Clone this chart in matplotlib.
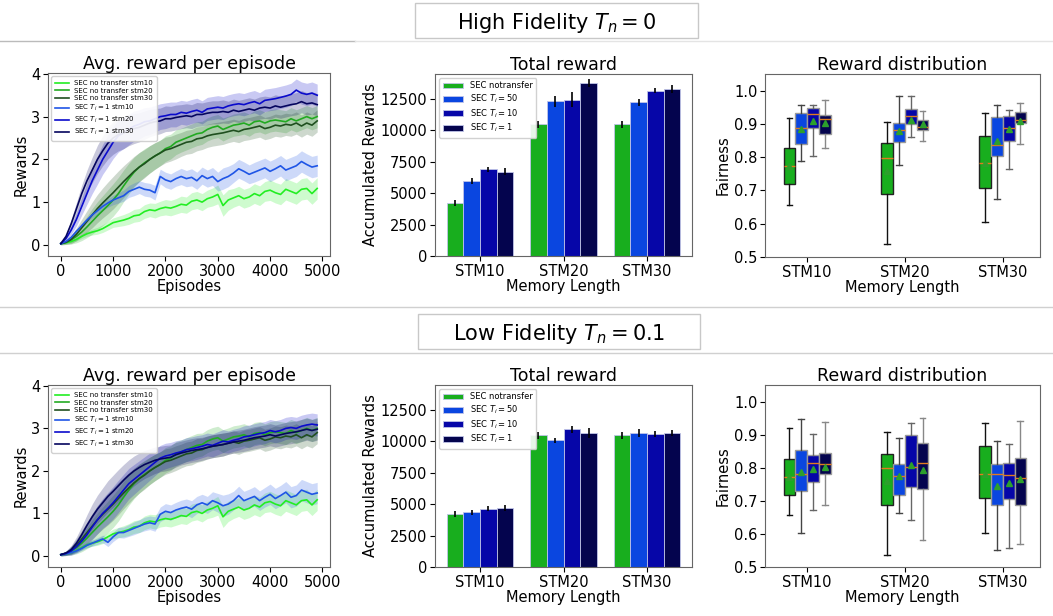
import numpy as np
import matplotlib
matplotlib.use("Agg")
import matplotlib.pyplot as plt
from matplotlib.lines import Line2D
from matplotlib.patches import Rectangle

plt.rcParams.update({
    "font.family": "DejaVu Sans",
    "axes.titlesize": 12.5,
    "axes.labelsize": 10.5,
    "xtick.labelsize": 10.5,
    "ytick.labelsize": 10.5,
    "axes.edgecolor": "#666666",
})

# ── Data: learning curves (episodes 0..4900, step 100) ─────────
EPISODES = np.arange(0, 5000, 100)

NT_STM10 = [0.03, 0.05, 0.08, 0.13, 0.2, 0.26, 0.3, 0.33, 0.38, 0.45,
            0.52, 0.55, 0.58, 0.62, 0.68, 0.7, 0.78, 0.82, 0.8, 0.85,
            0.88, 0.86, 0.9, 0.95, 0.93, 1.02, 1.05, 1.0, 1.08, 1.12,
            1.18, 0.92, 1.05, 1.1, 1.15, 1.08, 1.12, 1.2, 1.15, 1.25,
            1.28, 1.22, 1.18, 1.3, 1.25, 1.2, 1.3, 1.32, 1.2, 1.32]
NT_STM20 = [0.03, 0.06, 0.12, 0.2, 0.3, 0.42, 0.55, 0.68, 0.8, 0.92,
            1.05, 1.2, 1.38, 1.55, 1.7, 1.82, 1.92, 2.0, 2.08, 2.15,
            2.25, 2.3, 2.4, 2.45, 2.5, 2.55, 2.6, 2.62, 2.7, 2.75,
            2.78, 2.7, 2.75, 2.8, 2.82, 2.85, 2.8, 2.88, 2.9, 2.85,
            2.9, 2.92, 2.9, 2.88, 2.95, 2.9, 2.95, 3.0, 2.95, 3.0]
NT_STM30 = [0.03, 0.06, 0.13, 0.25, 0.4, 0.55, 0.7, 0.85, 0.98, 1.1,
            1.22, 1.35, 1.48, 1.6, 1.72, 1.82, 1.9, 2.0, 2.08, 2.15,
            2.22, 2.25, 2.3, 2.35, 2.4, 2.42, 2.48, 2.5, 2.55, 2.58,
            2.6, 2.62, 2.65, 2.68, 2.65, 2.7, 2.72, 2.75, 2.78, 2.72,
            2.75, 2.8, 2.78, 2.82, 2.8, 2.85, 2.78, 2.85, 2.8, 2.9]

HF_STM10 = [0.03, 0.08, 0.18, 0.32, 0.45, 0.58, 0.7, 0.8, 0.9, 0.98,
            1.05, 1.1, 1.15, 1.25, 1.3, 1.35, 1.3, 1.28, 1.22, 1.6,
            1.52, 1.48, 1.55, 1.6, 1.55, 1.58, 1.5, 1.62, 1.55, 1.6,
            1.48, 1.55, 1.6, 1.68, 1.78, 1.72, 1.65, 1.7, 1.75, 1.8,
            1.72, 1.78, 1.85, 1.75, 1.8, 1.85, 1.95, 1.88, 1.82, 1.85]
HF_STM20 = [0.03, 0.15, 0.35, 0.6, 0.9, 1.2, 1.5, 1.75, 2.0, 2.2,
            2.4, 2.55, 2.62, 2.7, 2.78, 2.82, 2.88, 2.9, 2.95, 3.0,
            3.02, 3.05, 3.05, 3.1, 3.08, 3.12, 3.15, 3.1, 3.18, 3.2,
            3.22, 3.2, 3.25, 3.28, 3.3, 3.28, 3.32, 3.35, 3.3, 3.38,
            3.4, 3.42, 3.45, 3.48, 3.52, 3.62, 3.55, 3.52, 3.55, 3.5]
HF_STM30 = [0.03, 0.2, 0.5, 0.85, 1.2, 1.5, 1.75, 2.0, 2.2, 2.38,
            2.5, 2.58, 2.62, 2.68, 2.72, 2.75, 2.8, 2.85, 2.88, 2.9,
            2.95, 2.95, 2.98, 3.0, 3.02, 3.0, 3.05, 3.05, 3.08, 3.1,
            3.1, 3.12, 3.1, 3.15, 3.12, 3.15, 3.18, 3.15, 3.2, 3.22,
            3.2, 3.25, 3.22, 3.25, 3.28, 3.3, 3.35, 3.3, 3.32, 3.28]

LF_STM10 = [0.03, 0.05, 0.08, 0.12, 0.18, 0.25, 0.3, 0.35, 0.4, 0.32,
            0.45, 0.55, 0.55, 0.6, 0.65, 0.7, 0.75, 0.78, 0.75, 0.98,
            1.05, 1.02, 1.08, 1.12, 1.15, 1.1, 1.2, 1.25, 1.2, 1.3,
            1.25, 1.18, 1.22, 1.3, 1.42, 1.3, 1.35, 1.4, 1.3, 1.38,
            1.45, 1.35, 1.42, 1.5, 1.38, 1.42, 1.55, 1.5, 1.45, 1.48]
LF_STM20 = [0.03, 0.06, 0.12, 0.22, 0.35, 0.5, 0.68, 0.85, 1.0, 1.12,
            1.25, 1.4, 1.55, 1.7, 1.8, 1.9, 2.0, 2.1, 2.2, 2.3,
            2.35, 2.38, 2.42, 2.45, 2.5, 2.52, 2.55, 2.58, 2.62, 2.6,
            2.65, 2.7, 2.68, 2.72, 2.75, 2.8, 2.82, 2.85, 2.88, 2.9,
            2.95, 2.92, 2.95, 3.0, 3.02, 3.0, 3.05, 3.08, 3.1, 3.08]
LF_STM30 = [0.03, 0.07, 0.15, 0.3, 0.5, 0.72, 0.92, 1.1, 1.25, 1.4,
            1.52, 1.65, 1.78, 1.9, 2.0, 2.08, 2.15, 2.2, 2.25, 2.28,
            2.3, 2.32, 2.38, 2.42, 2.45, 2.48, 2.5, 2.52, 2.55, 2.58,
            2.6, 2.62, 2.65, 2.68, 2.7, 2.72, 2.75, 2.78, 2.8, 2.82,
            2.85, 2.82, 2.85, 2.88, 2.9, 2.92, 2.95, 2.98, 2.95, 2.98]

# band half-widths (shaded region)
BAND_SMALL = [0.02, 0.02, 0.03, 0.04, 0.05, 0.06, 0.07, 0.08, 0.09, 0.1,
              0.11, 0.12, 0.13, 0.14, 0.15, 0.15, 0.16, 0.16, 0.17, 0.17,
              0.18, 0.18, 0.18, 0.19, 0.19, 0.2, 0.2, 0.2, 0.2, 0.21,
              0.22, 0.25, 0.24, 0.22, 0.22, 0.22, 0.22, 0.23, 0.23, 0.23,
              0.24, 0.24, 0.24, 0.25, 0.25, 0.25, 0.25, 0.25, 0.25, 0.25]
BAND_LARGE = [0.03, 0.05, 0.1, 0.15, 0.2, 0.25, 0.3, 0.33, 0.35, 0.37,
              0.38, 0.38, 0.37, 0.36, 0.35, 0.34, 0.33, 0.32, 0.31, 0.3,
              0.3, 0.29, 0.29, 0.28, 0.28, 0.28, 0.28, 0.27, 0.27, 0.27,
              0.27, 0.27, 0.26, 0.26, 0.26, 0.26, 0.26, 0.26, 0.26, 0.26,
              0.26, 0.26, 0.26, 0.26, 0.26, 0.26, 0.26, 0.26, 0.26, 0.26]

CURVE_LABELS = ["SEC no transfer stm10", "SEC no transfer stm20",
                "SEC no transfer stm30", "SEC $T_i = 1$ stm10",
                "SEC $T_i = 1$ stm20", "SEC $T_i = 1$ stm30"]
CURVE_COLORS = ["#22ee22", "#22aa22", "#1f4f1f", "#1f55e6", "#0a0acc", "#05055e"]

# ── Data: total reward bars ──────────────────────────────────
GROUPS = ["STM10", "STM20", "STM30"]
BAR_LABELS = ["SEC notransfer", "SEC $T_i = 50$", "SEC $T_i = 10$", "SEC $T_i = 1$"]
BAR_COLORS = ["#18ae1e", "#0a46e0", "#0606a8", "#04044e"]

HF_TOTAL = [[4200, 10510, 10510], [5970, 12310, 12230],
            [6900, 12450, 13160], [6710, 13750, 13300]]
HF_TOTAL_ERR = [[250, 280, 280], [220, 430, 270],
                [200, 600, 210], [280, 320, 350]]
LF_TOTAL = [[4200, 10510, 10510], [4380, 10080, 10660],
            [4640, 10960, 10600], [4720, 10680, 10660]]
LF_TOTAL_ERR = [[250, 280, 280], [200, 230, 300],
                [200, 250, 270], [230, 400, 220]]

# ── Data: fairness boxplots (method x group) ─────────────────
HF_WLO = [[0.657, 0.538, 0.605], [0.79, 0.777, 0.675],
          [0.804, 0.862, 0.765], [0.828, 0.848, 0.84]]
HF_Q1 = [[0.718, 0.689, 0.708], [0.84, 0.846, 0.805],
         [0.887, 0.899, 0.85], [0.87, 0.882, 0.902]]
HF_MED = [[0.772, 0.798, 0.783], [0.887, 0.882, 0.837],
          [0.929, 0.924, 0.887], [0.915, 0.89, 0.911]]
HF_MEAN = [[0.772, 0.758, 0.783], [0.884, 0.878, 0.85],
           [0.91, 0.912, 0.884], [0.902, 0.9, 0.91]]
HF_Q3 = [[0.827, 0.842, 0.863], [0.934, 0.902, 0.92],
         [0.947, 0.945, 0.923], [0.927, 0.912, 0.935]]
HF_WHI = [[0.918, 0.905, 0.933], [0.958, 0.983, 0.957],
          [0.957, 0.985, 0.942], [0.972, 0.938, 0.963]]

LF_WLO = [[0.657, 0.535, 0.603], [0.603, 0.664, 0.55],
          [0.671, 0.643, 0.558], [0.688, 0.582, 0.57]]
LF_Q1 = [[0.719, 0.688, 0.71], [0.729, 0.719, 0.688],
         [0.758, 0.742, 0.706], [0.78, 0.736, 0.686]]
LF_MED = [[0.773, 0.8, 0.782], [0.782, 0.776, 0.782],
          [0.813, 0.803, 0.778], [0.812, 0.815, 0.77]]
LF_MEAN = [[0.773, 0.76, 0.782], [0.787, 0.774, 0.744],
           [0.797, 0.808, 0.754], [0.802, 0.794, 0.765]]
LF_Q3 = [[0.827, 0.842, 0.866], [0.854, 0.81, 0.812],
         [0.838, 0.9, 0.813], [0.843, 0.874, 0.829]]
LF_WHI = [[0.921, 0.908, 0.936], [0.947, 0.89, 0.881],
          [0.903, 0.935, 0.873], [0.938, 0.95, 0.942]]

WHISKER_COLORS = ["#111111", "#444444", "#666666", "#888888"]
BOX_EDGES = ["#222222", "#9a9a9a", "#9a9a9a", "#9a9a9a"]

# ── Figure ──────────────────────────────────────────────────
fig = plt.figure(figsize=(10.53, 6.16), dpi=100)
W, H = 1053, 616


def px_axes(x0, y0, x1, y1):
    return fig.add_axes([x0 / W, 1 - y1 / H, (x1 - x0) / W, (y1 - y0) / H])


def draw_curves(ax, curves):
    bands = [BAND_SMALL, BAND_LARGE, BAND_LARGE, BAND_SMALL, BAND_LARGE, BAND_LARGE]
    for vals, band, color, label in zip(curves, bands, CURVE_COLORS, CURVE_LABELS):
        v = np.array(vals)
        b = np.array(band)
        ax.fill_between(EPISODES, v - b, v + b, color=color, alpha=0.22, linewidth=0)
        ax.plot(EPISODES, v, color=color, linewidth=1.2, label=label)
    ax.set_ylim(-0.26, 4.02)
    ax.set_yticks([0, 1, 2, 3, 4])
    ax.set_xticks([0, 1000, 2000, 3000, 4000, 5000])
    ax.tick_params(pad=2)
    ax.set_xlabel("Episodes", labelpad=0.5)
    ax.set_ylabel("Rewards", labelpad=2)
    ax.set_title("Avg. reward per episode", pad=2)
    ax.legend(loc="upper left", fontsize=5, handlelength=2.0, labelspacing=0.25,
              borderpad=0.5, framealpha=0.9)


def draw_bars(ax, totals, errs):
    x = np.arange(len(GROUPS))
    width = 0.2
    for i, (vals, err) in enumerate(zip(totals, errs)):
        ax.bar(x + (i - 1.5) * width, vals, width, yerr=err, color=BAR_COLORS[i],
               edgecolor="#c0c4e8", linewidth=0.6, ecolor="black",
               error_kw={"elinewidth": 1.2}, label=BAR_LABELS[i])
    ax.set_xticks(x)
    ax.set_xticklabels(GROUPS)
    ax.set_ylim(0, 14500)
    ax.set_yticks([0, 2500, 5000, 7500, 10000, 12500])
    ax.tick_params(pad=2)
    ax.set_xlabel("Memory Length", labelpad=0.5)
    ax.set_ylabel("Accumulated Rewards", labelpad=2)
    ax.set_title("Total reward", pad=2)
    ax.legend(loc="upper left", fontsize=6, handlelength=2.5, labelspacing=0.25,
              framealpha=0.9)


def draw_boxes(ax, wlo, q1, med, mean, q3, whi):
    offsets = [-0.18, -0.06, 0.06, 0.18]
    for m in range(4):
        stats = []
        for g in range(3):
            stats.append({"whislo": wlo[m][g], "q1": q1[m][g], "med": med[m][g],
                          "mean": mean[m][g], "q3": q3[m][g], "whishi": whi[m][g],
                          "fliers": []})
        ax.bxp(stats, positions=np.arange(3) + offsets[m], widths=0.12,
               patch_artist=True, showmeans=True, manage_ticks=False,
               boxprops={"facecolor": BAR_COLORS[m], "edgecolor": BOX_EDGES[m],
                         "linewidth": 1.0},
               whiskerprops={"color": WHISKER_COLORS[m], "linewidth": 1.0},
               capprops={"color": WHISKER_COLORS[m], "linewidth": 1.0},
               medianprops={"color": "#e07b20", "linewidth": 1.0},
               meanprops={"marker": "^", "markerfacecolor": "#2ca02c",
                          "markeredgecolor": "#2ca02c", "markersize": 5})
    ax.set_xticks(np.arange(3))
    ax.set_xticklabels(GROUPS)
    ax.set_xlim(-0.43, 2.38)
    ax.set_ylim(0.5, 1.05)
    ax.set_yticks([0.5, 0.6, 0.7, 0.8, 0.9, 1.0])
    ax.tick_params(pad=2)
    ax.set_xlabel("Memory Length", labelpad=0.5)
    ax.set_ylabel("Fairness", labelpad=2)
    ax.set_title("Reward distribution", pad=2)


# row 1: High fidelity
ax = px_axes(48, 73, 330, 256)
draw_curves(ax, [NT_STM10, NT_STM20, NT_STM30, HF_STM10, HF_STM20, HF_STM30])
ax = px_axes(435, 74, 692, 256)
draw_bars(ax, HF_TOTAL, HF_TOTAL_ERR)
ax = px_axes(765, 74, 1040, 257)
draw_boxes(ax, HF_WLO, HF_Q1, HF_MED, HF_MEAN, HF_Q3, HF_WHI)

# row 2: Low fidelity
ax = px_axes(48, 385, 330, 567)
draw_curves(ax, [NT_STM10, NT_STM20, NT_STM30, LF_STM10, LF_STM20, LF_STM30])
ax = px_axes(435, 385, 692, 567)
draw_bars(ax, LF_TOTAL, LF_TOTAL_ERR)
ax = px_axes(765, 385, 1040, 567)
draw_boxes(ax, LF_WLO, LF_Q1, LF_MED, LF_MEAN, LF_Q3, LF_WHI)

# ── Row headers, separators ─────────────────────────────────
def hline(y, x0=0, x1=W, color="#d0d0d0"):
    fig.add_artist(Line2D([x0 / W, x1 / W], [1 - y / H, 1 - y / H],
                          color=color, linewidth=1.0))


hline(41, 0, 355, "#bbbbbb")
hline(41, 355, W, "#e4e4e4")
hline(307)
hline(353)
fig.add_artist(Rectangle((415 / W, 1 - 38 / H), 283 / W, 35 / H, fill=False,
                         edgecolor="#c8c8c8", linewidth=1.0))
fig.add_artist(Rectangle((418 / W, 1 - 349 / H), 282 / W, 35 / H, fill=False,
                         edgecolor="#c8c8c8", linewidth=1.0))
fig.text(557 / W, 1 - 23 / H, "High Fidelity $T_n = 0$", fontsize=15,
         ha="center", va="center")
fig.text(559 / W, 1 - 334 / H, "Low Fidelity $T_n = 0.1$", fontsize=15,
         ha="center", va="center")

fig.savefig("out.png", dpi=100)
